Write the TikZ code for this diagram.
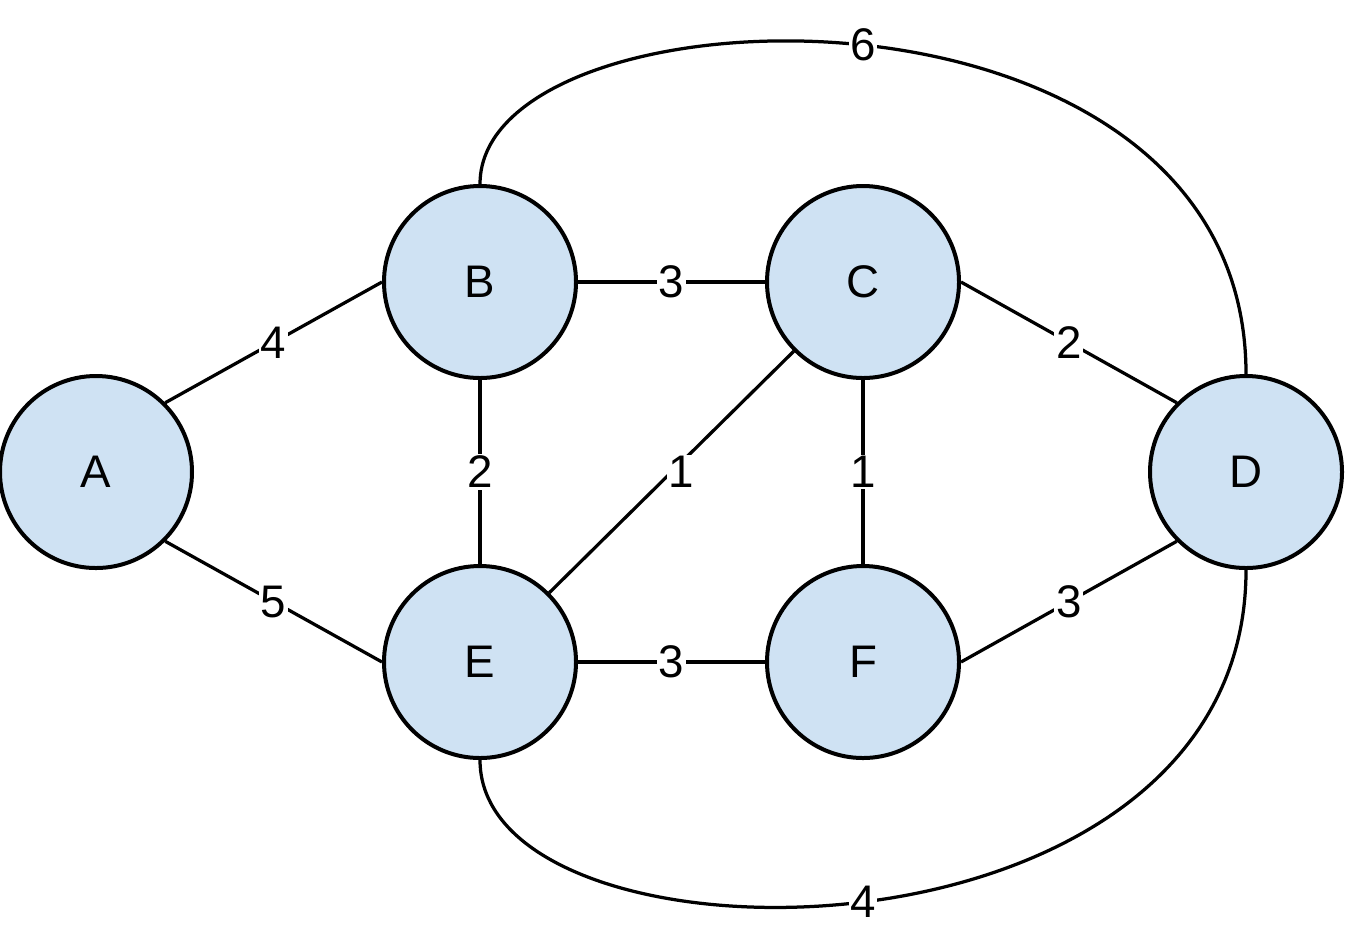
\documentclass[tikz,border=0pt]{standalone}
\usepackage{fontspec}
\setmainfont{Liberation Sans}
\usepackage{tikz}
\usetikzlibrary{positioning}
\definecolor{nodefill}{HTML}{CFE2F3}

\begin{document}
\begin{tikzpicture}[
      x=0.2mm, y=-0.2mm,
      vertex/.style={circle, draw=black, line width=0.8mm, fill=nodefill,
                     minimum size=38.4mm, inner sep=0pt,
                     font=\fontsize{26}{30}\selectfont},
      edge/.style={line width=0.65mm},
      weight/.style={fill=white, inner sep=1pt,
                     font=\fontsize{26}{30}\selectfont},
    ]
    \useasboundingbox (0,0) rectangle (1346,943);

    \node[vertex] (A) at (96,472)   {A};
    \node[vertex] (B) at (480,282)  {B};
    \node[vertex] (C) at (863,282)  {C};
    \node[vertex] (D) at (1246,472) {D};
    \node[vertex] (E) at (480,662)  {E};
    \node[vertex] (F) at (863,662)  {F};

    \draw[edge] (A.north east) -- node[weight] {4} (B.west);
    \draw[edge] (A.south east) -- node[weight] {5} (E.west);
    \draw[edge] (B) -- node[weight] {3} (C);
    \draw[edge] (B) -- node[weight] {2} (E);
    \draw[edge] (C.south west) -- node[weight, xshift=2mm] {1} (E.north east);
    \draw[edge] (C) -- node[weight] {1} (F);
    \draw[edge] (C.east) -- node[weight] {2} (D.north west);
    \draw[edge] (E) -- node[weight] {3} (F);
    \draw[edge] (F.east) -- node[weight] {3} (D.south west);

    % long curved edges
    \draw[edge] (B.north) .. controls (480,-20) and (1246,-46)
      .. node[weight, pos=0.5] {6} (D.north);
    \draw[edge] (E.south) .. controls (480,981) and (1246,981)
      .. node[weight, pos=0.5] {4} (D.south);
  \end{tikzpicture}
\end{document}
